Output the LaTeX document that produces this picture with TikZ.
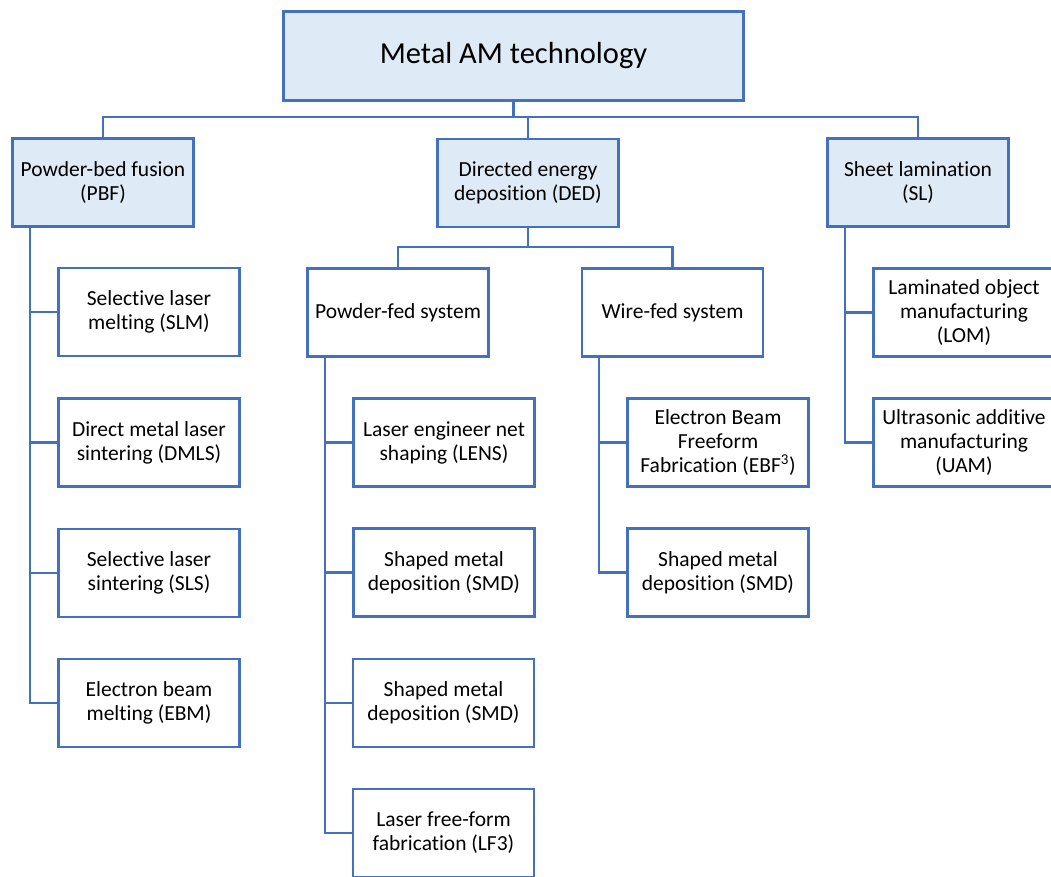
\documentclass[tikz,border=0pt]{standalone}
\usepackage{fontspec}
\setmainfont{Carlito}[Ligatures=NoCommon]
\definecolor{bl}{RGB}{68,112,192}
\definecolor{lbl}{RGB}{222,234,246}
\begin{document}
\begin{tikzpicture}[x=1pt,y=-1pt,
  box/.style={draw=bl, line width=2.6pt, fill=white, minimum width=181pt, minimum height=88pt,
    align=center, inner sep=0pt, font=\fontsize{21.5}{24}\selectfont},
  head/.style={box, fill=lbl},
  conn/.style={draw=bl, line width=2.2pt}]
\useasboundingbox (0,0) rectangle (1051,877);
\clip (0,0) rectangle (1051,877);
% top
\node[head, minimum width=460pt, minimum height=89pt, font=\fontsize{30.5}{36}\selectfont] (top) at (513.5,56) {Metal AM technology};
% level 1
\node[head] (pbf) at (103,182.5) {Powder-bed fusion\\(PBF)};
\node[head] (ded) at (528,183) {Directed energy\\deposition (DED)};
\node[head] (sl) at (918,182.5) {Sheet lamination\\(SL)};
% PBF children
\node[box] (slm) at (149,312) {Selective laser\\melting (SLM)};
\node[box] (dmls) at (149,442.5) {Direct metal laser\\sintering (DMLS)};
\node[box] (sls) at (149,573) {Selective laser\\sintering (SLS)};
\node[box] (ebm) at (149,703) {Electron beam\\melting (EBM)};
% DED children
\node[box] (pf) at (398,312.5) {Powder-fed system};
\node[box] (wf) at (672.5,312.5) {Wire-fed system};
\node[box] (lens) at (444,442.5) {Laser engineer net\\shaping (LENS)};
\node[box] (smda) at (444,572.5) {Shaped metal\\deposition (SMD)};
\node[box] (smdb) at (443.5,703) {Shaped metal\\deposition (SMD)};
\node[box] (lf) at (443.5,833) {Laser free-form\\fabrication (LF3)};
\node[box] (ebf) at (718,442.5) {Electron Beam\\Freeform\\Fabrication (EBF\textsuperscript{3})};
\node[box] (smdc) at (718,572.5) {Shaped metal\\deposition (SMD)};
% SL children
\node[box] (lom) at (964,312.5) {Laminated object\\manufacturing\\(LOM)};
\node[box] (uam) at (964,442.5) {Ultrasonic additive\\manufacturing\\(UAM)};
% coordinates
\coordinate (bus) at (513.5,117);
\coordinate (dbus) at (528,247);
\coordinate (pbfsp) at (30,0);
\coordinate (pfsp) at (325,0);
\coordinate (wfsp) at (599,0);
\coordinate (slsp) at (845,0);
% top connectors
\draw[conn] (top.south) -- (bus);
\draw[conn] (pbf.north) |- (bus) -| (sl.north);
\draw[conn] (ded.north) -- (ded.north |- bus);
\draw[conn] (ded.south) -- (dbus);
\draw[conn] (pf.north) |- (dbus) -| (wf.north);
% PBF spine
\draw[conn] (pbf.south -| pbfsp) |- (ebm.west);
\draw[conn] (slm.west) -- (slm.west -| pbfsp);
\draw[conn] (dmls.west) -- (dmls.west -| pbfsp);
\draw[conn] (sls.west) -- (sls.west -| pbfsp);
% powder-fed spine
\draw[conn] (pf.south -| pfsp) |- (lf.west);
\draw[conn] (lens.west) -- (lens.west -| pfsp);
\draw[conn] (smda.west) -- (smda.west -| pfsp);
\draw[conn] (smdb.west) -- (smdb.west -| pfsp);
% wire-fed spine
\draw[conn] (wf.south -| wfsp) |- (smdc.west);
\draw[conn] (ebf.west) -- (ebf.west -| wfsp);
% SL spine
\draw[conn] (sl.south -| slsp) |- (uam.west);
\draw[conn] (lom.west) -- (lom.west -| slsp);
\end{tikzpicture}
\end{document}
